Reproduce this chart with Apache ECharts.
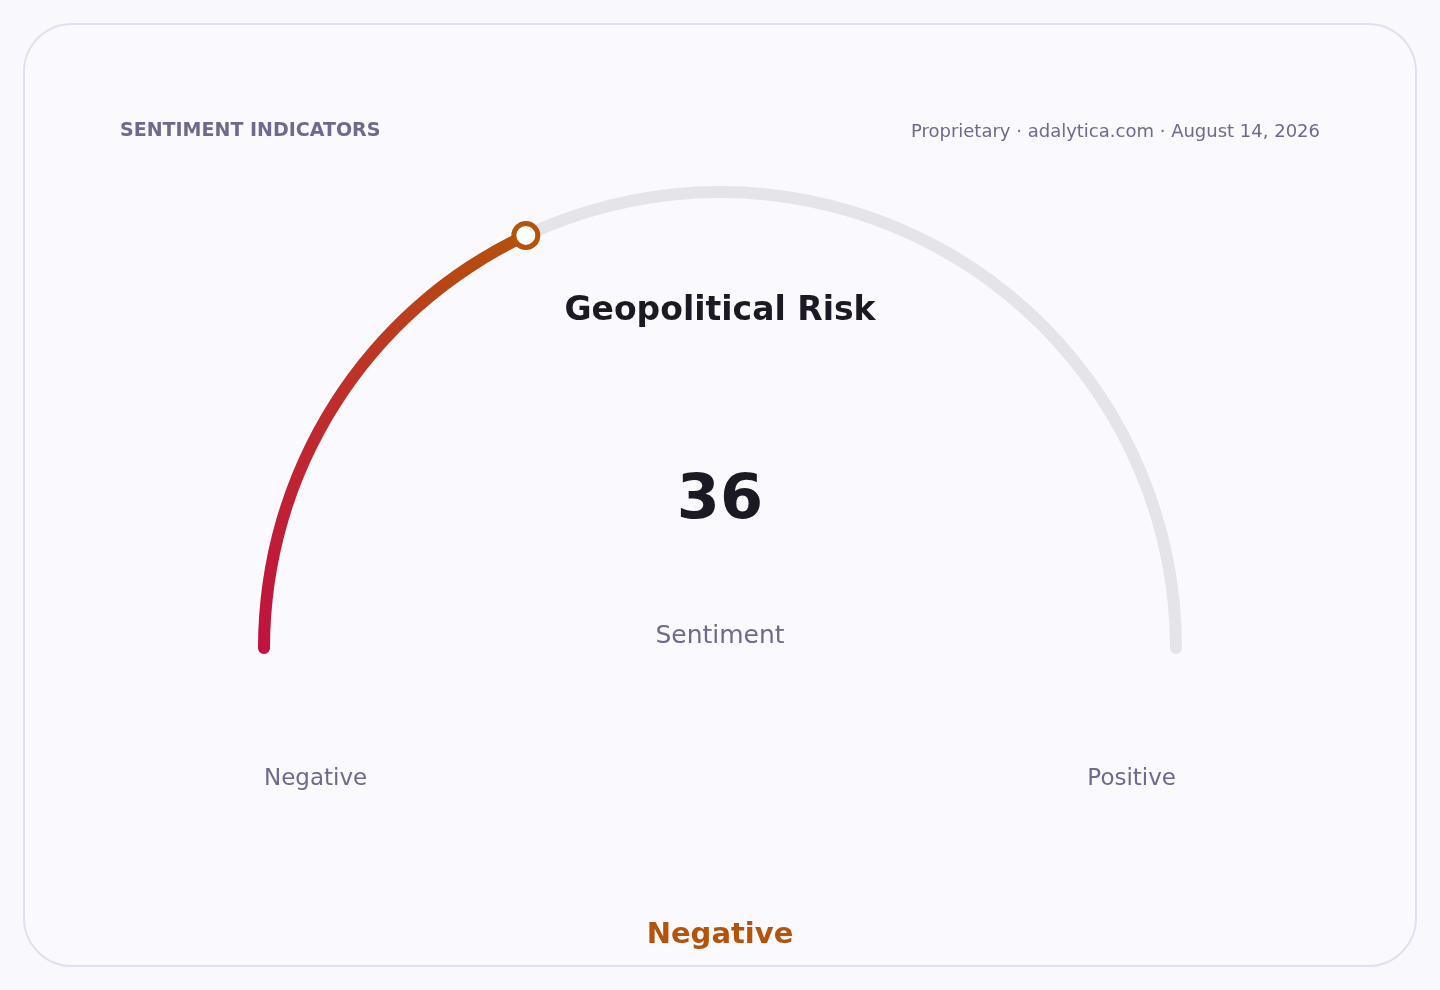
<!DOCTYPE html>
<html>
<head>
<meta charset="utf-8">
<script src="https://cdn.jsdelivr.net/npm/echarts@6/dist/echarts.min.js"></script>
<style>
  html, body { margin: 0; padding: 0; background: #f8f8fd; }
  #chart { width: 1440px; height: 990px; }
</style>
</head>
<body>
<div id="chart"></div>
<script>
// data
var indicatorName = 'Geopolitical Risk';
var sentimentValue = 36;
var scaleMin = 0;
var scaleMax = 100;
var endLabels = ['Negative', 'Positive'];
var verdict = 'Negative';

var font = '"DejaVu Sans", sans-serif';
var cx = 720, cy = 648, arcR = 462, lineW = 12;

var chart = echarts.init(document.getElementById('chart'));

var option = {
    backgroundColor: '#f8f8fd',
    animation: false,
    textStyle: { fontFamily: font },
    graphic: [
        // card
        {
            type: 'rect', z: -10,
            shape: { x: 24, y: 24, width: 1392, height: 942, r: 48 },
            style: { fill: '#f9f9fe', stroke: '#e2e0f0', lineWidth: 2 }
        },
        {
            type: 'text', x: 120, y: 131,
            style: { text: 'SENTIMENT INDICATORS', fill: '#6e6a8e', font: 'bold 19px ' + font, align: 'left', verticalAlign: 'middle' }
        },
        {
            type: 'text', x: 1320, y: 132,
            style: { text: 'Proprietary · adalytica.com · August 14, 2026', fill: '#6e6a8e', font: '18px ' + font, align: 'right', verticalAlign: 'middle' }
        },
        {
            type: 'text', x: 720, y: 636,
            style: { text: 'Sentiment', fill: '#6e6a8e', font: '25px ' + font, align: 'center', verticalAlign: 'middle' }
        },
        {
            type: 'text', x: 264, y: 779,
            style: { text: endLabels[0], fill: '#6e6a8e', font: '23px ' + font, align: 'left', verticalAlign: 'middle' }
        },
        {
            type: 'text', x: 1176, y: 779,
            style: { text: endLabels[1], fill: '#6e6a8e', font: '23px ' + font, align: 'right', verticalAlign: 'middle' }
        },
        {
            type: 'text', x: 720, y: 935,
            style: { text: verdict, fill: '#b45309', font: 'bold 29px ' + font, align: 'center', verticalAlign: 'middle' }
        }
    ],
    // polar system overlaid on the gauge to place the end marker
    polar: { center: [cx, cy], radius: arcR - lineW / 2 },
    angleAxis: {
        type: 'value', min: scaleMin, max: scaleMin + (scaleMax - scaleMin) * 2,
        startAngle: 180, clockwise: true, show: false
    },
    radiusAxis: { type: 'value', min: 0, max: 1, show: false },
    series: [{
        type: 'gauge',
        center: [cx, cy],
        radius: arcR,
        startAngle: 180,
        endAngle: 0,
        min: scaleMin,
        max: scaleMax,
        axisLine: {
            roundCap: true,
            lineStyle: { width: lineW, color: [[1, '#e5e4ea']] }
        },
        progress: {
            show: true,
            roundCap: true,
            width: lineW,
            itemStyle: {
                color: new echarts.graphic.LinearGradient(0, 1, 1, 0, [
                    { offset: 0, color: '#c0123f' },
                    { offset: 0.5, color: '#bf2d2c' },
                    { offset: 1, color: '#b45309' }
                ])
            }
        },
        pointer: { show: false },
        anchor: { show: false },
        axisTick: { show: false },
        splitLine: { show: false },
        axisLabel: { show: false },
        title: {
            offsetCenter: [0, 311 - cy],
            color: '#1b1a24',
            fontSize: 33,
            fontWeight: 'bold',
            fontFamily: font
        },
        detail: {
            offsetCenter: [0, 502 - cy],
            color: '#1b1a24',
            fontSize: 62,
            fontWeight: 'bold',
            fontFamily: font,
            valueAnimation: false
        },
        data: [{ name: indicatorName, value: sentimentValue }]
    }, {
        type: 'scatter',
        coordinateSystem: 'polar',
        symbol: 'circle',
        symbolSize: 24,
        z: 10,
        itemStyle: { color: '#ffffff', opacity: 1, borderColor: '#b45309', borderWidth: 5 },
        data: [[1, sentimentValue]]
    }]
};

chart.setOption(option);
</script>
</body>
</html>
